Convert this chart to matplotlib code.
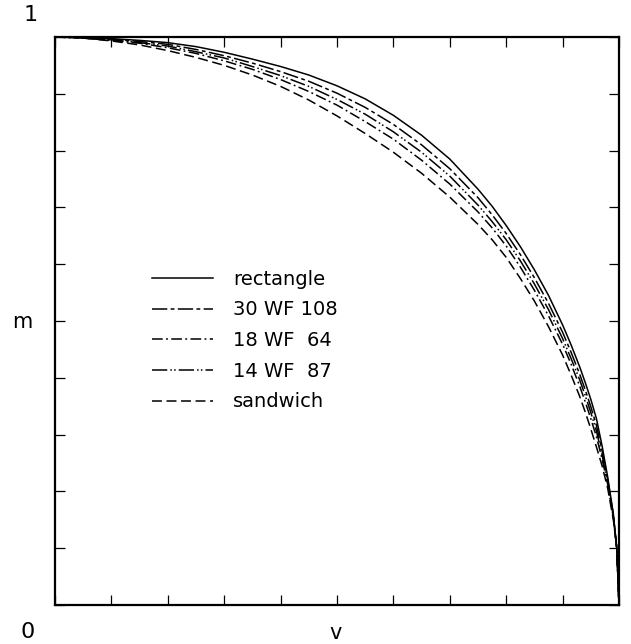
import matplotlib
matplotlib.use("Agg")
import matplotlib.pyplot as plt
import numpy as np

# shear ratio v
v = [0.0, 0.05, 0.10, 0.15, 0.20, 0.25, 0.30, 0.35, 0.40, 0.45, 0.50, 0.55,
     0.60, 0.65, 0.70, 0.75, 0.775, 0.80, 0.825, 0.85, 0.875, 0.90, 0.915,
     0.93, 0.94, 0.95, 0.96, 0.97, 0.98, 0.99, 0.996, 1.0]

# moment ratio m for each section
m_rectangle = [1.000, 0.999, 0.997, 0.994, 0.990, 0.983, 0.973, 0.961, 0.948,
               0.933, 0.914, 0.891, 0.862, 0.827, 0.785, 0.732, 0.702, 0.668,
               0.631, 0.590, 0.545, 0.493, 0.458, 0.420, 0.392, 0.362, 0.328,
               0.280, 0.225, 0.160, 0.100, 0.0]
m_30wf108 = [1.000, 0.999, 0.996, 0.992, 0.987, 0.978, 0.967, 0.954, 0.939,
             0.922, 0.901, 0.876, 0.846, 0.810, 0.768, 0.717, 0.687, 0.654,
             0.617, 0.576, 0.531, 0.480, 0.445, 0.407, 0.379, 0.349, 0.316,
             0.271, 0.220, 0.158, 0.100, 0.0]
m_18wf64 = [1.000, 0.998, 0.994, 0.989, 0.981, 0.971, 0.958, 0.943, 0.925,
            0.904, 0.880, 0.851, 0.820, 0.783, 0.741, 0.692, 0.664, 0.632,
            0.595, 0.554, 0.509, 0.459, 0.424, 0.386, 0.358, 0.328, 0.296,
            0.257, 0.212, 0.154, 0.100, 0.0]
m_14wf87 = [1.000, 0.998, 0.995, 0.990, 0.984, 0.974, 0.963, 0.948, 0.932,
            0.913, 0.890, 0.864, 0.833, 0.797, 0.755, 0.704, 0.675, 0.643,
            0.606, 0.565, 0.520, 0.469, 0.434, 0.397, 0.369, 0.339, 0.306,
            0.264, 0.216, 0.156, 0.100, 0.0]
m_sandwich = [1.000, 0.998, 0.993, 0.986, 0.976, 0.964, 0.950, 0.933, 0.913,
              0.889, 0.861, 0.830, 0.797, 0.760, 0.718, 0.670, 0.643, 0.612,
              0.575, 0.535, 0.490, 0.440, 0.405, 0.368, 0.340, 0.310, 0.278,
              0.245, 0.205, 0.150, 0.100, 0.0]

labels = ["rectangle", "30 WF 108", "18 WF  64", "14 WF  87", "sandwich"]
series = [m_rectangle, m_30wf108, m_18wf64, m_14wf87, m_sandwich]
styles = [
    "-",
    (0, (10, 2.2, 2.5, 2.2)),
    (0, (7, 2.2, 1.2, 2.2)),
    (0, (10, 2.0, 1.0, 1.5, 1.0, 2.0)),
    (0, (6.5, 3)),
]

fig = plt.figure(figsize=(6.31, 6.44), dpi=100)
ax = fig.add_axes([0.0872, 0.0606, 0.8938, 0.882])

for m, lab, ls in zip(series, labels, styles):
    ax.plot(v, m, color="black", lw=1.1, ls=ls, label=lab)

ax.set_xlim(0, 1)
ax.set_ylim(0, 1)
ax.set_xticks(np.linspace(0, 1, 11))
ax.set_yticks(np.linspace(0, 1, 11))
ax.tick_params(direction="in", length=7, width=0.9, top=True, right=True,
               labelbottom=False, labelleft=False)
for sp in ax.spines.values():
    sp.set_linewidth(1.6)

ax.legend(loc="upper left", bbox_to_anchor=(0.158, 0.604), frameon=False,
          fontsize=14, handlelength=3.15, handletextpad=1.03, labelspacing=0.6,
          borderaxespad=0)

fig.text(0.049, 0.977, "1", fontsize=16, ha="center", va="center")
fig.text(0.043, 0.019, "0", fontsize=16, ha="center", va="center")
fig.text(0.532, 0.017, "v", fontsize=15, ha="center", va="center")
fig.text(0.035, 0.500, "m", fontsize=15, ha="center", va="center")

fig.savefig("out.png", dpi=100)
